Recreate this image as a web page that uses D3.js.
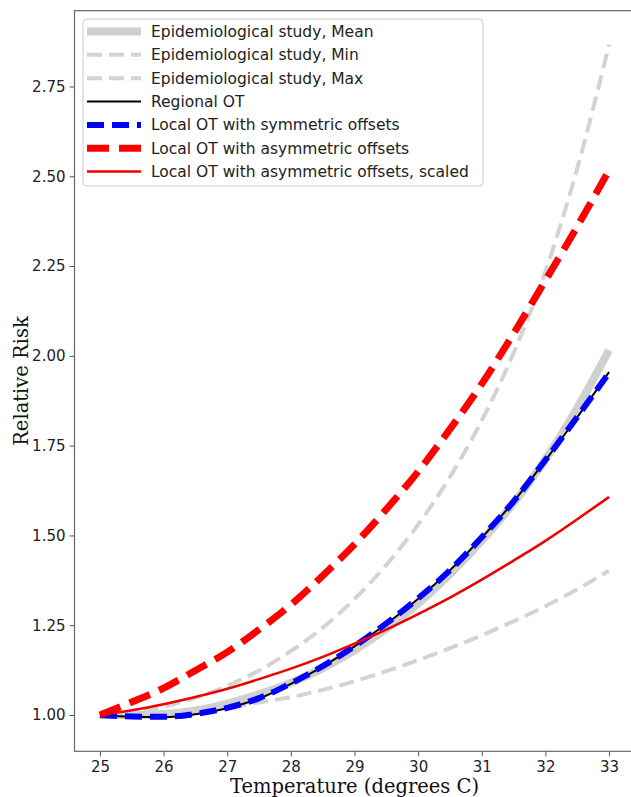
<!DOCTYPE html>
<html>
<head>
<meta charset="utf-8">
<script src="https://cdn.jsdelivr.net/npm/d3@7"></script>
<style>
  html, body { margin: 0; padding: 0; background: #fff; }
  svg { display: block; }
</style>
</head>
<body>
<svg id="chart" width="631" height="797"></svg>
<script>
// ---------------- data ----------------
const temps = [25, 25.5, 26, 26.5, 27, 27.5, 28, 28.5, 29, 29.5, 30, 30.5, 31, 31.5, 32, 32.5, 33];
const epiMean = [1.000, 1.000, 1.003, 1.013, 1.032, 1.058, 1.090, 1.130, 1.180, 1.240, 1.310, 1.392, 1.485, 1.590, 1.712, 1.855, 2.016];
const epiMin  = [1.000, 1.002, 1.006, 1.013, 1.022, 1.035, 1.050, 1.070, 1.094, 1.122, 1.153, 1.186, 1.222, 1.261, 1.303, 1.350, 1.402];
const epiMax  = [1.000, 1.008, 1.024, 1.048, 1.081, 1.124, 1.178, 1.243, 1.323, 1.418, 1.530, 1.663, 1.820, 2.008, 2.235, 2.522, 2.866];
const regionalOT = [1.000, 0.995, 0.994, 1.002, 1.019, 1.046, 1.087, 1.135, 1.191, 1.254, 1.324, 1.403, 1.494, 1.594, 1.709, 1.829, 1.955];
const localSym   = [1.000, 0.996, 0.995, 1.003, 1.020, 1.047, 1.088, 1.136, 1.192, 1.255, 1.325, 1.403, 1.495, 1.595, 1.710, 1.830, 1.953];
const localAsym  = [1.000, 1.036, 1.075, 1.124, 1.175, 1.238, 1.307, 1.388, 1.475, 1.573, 1.678, 1.796, 1.922, 2.062, 2.210, 2.360, 2.517];
const localAsymScaled = [1.000, 1.013, 1.030, 1.050, 1.073, 1.100, 1.129, 1.162, 1.199, 1.238, 1.281, 1.327, 1.377, 1.430, 1.485, 1.545, 1.607];

const xTicks = [25, 26, 27, 28, 29, 30, 31, 32, 33];
const yTicks = [1.00, 1.25, 1.50, 1.75, 2.00, 2.25, 2.50, 2.75];

const seriesLabels = [
  "Epidemiological study, Mean",
  "Epidemiological study, Min",
  "Epidemiological study, Max",
  "Regional OT",
  "Local OT with symmetric offsets",
  "Local OT with asymmetric offsets",
  "Local OT with asymmetric offsets, scaled"
];
const seriesValues = [epiMean, epiMin, epiMax, regionalOT, localSym, localAsym, localAsymScaled];

// styles
const styles = [
  { color: "#d0d0d0", width: 8,   dash: null,    cap: "butt" },
  { color: "#d3d3d3", width: 4,   dash: "15,7",  cap: "butt" },
  { color: "#d3d3d3", width: 4,   dash: "15,7",  cap: "butt" },
  { color: "#000000", width: 2,   dash: null,    cap: "butt" },
  { color: "#0000ff", width: 6,   dash: "17,8",  cap: "butt" },
  { color: "#ff0000", width: 7,   dash: "22,10", cap: "butt" },
  { color: "#ee0000", width: 2.5, dash: null,    cap: "butt" }
];

// ---------------- layout ----------------
const svg = d3.select("#chart");
const pL = 74.5, pR = 634.5, pT = 10.7, pB = 751.3;

const x = d3.scaleLinear().domain([24.6, 33.4]).range([pL, pR]);
const y = d3.scaleLinear().domain([0.899, 2.961]).range([pB, pT]);

// clip
svg.append("defs").append("clipPath").attr("id", "plotclip")
  .append("rect").attr("x", pL).attr("y", pT).attr("width", pR - pL).attr("height", pB - pT);

const line = d3.line().x(d => x(d[0])).y(d => y(d[1])).curve(d3.curveMonotoneX);

const plot = svg.append("g").attr("clip-path", "url(#plotclip)");
seriesValues.forEach((vals, i) => {
  const st = styles[i];
  plot.append("path")
    .datum(temps.map((t, j) => [t, vals[j]]))
    .attr("d", line)
    .attr("fill", "none")
    .attr("stroke", st.color)
    .attr("stroke-width", st.width)
    .attr("stroke-linecap", st.cap)
    .attr("stroke-linejoin", "round")
    .attr("stroke-dasharray", st.dash);
});

// axes
const tickFont = "DejaVu Sans, sans-serif";
const xAxis = d3.axisBottom(x).tickValues(xTicks).tickFormat(d3.format("d")).tickSize(5).tickPadding(5);
const yAxis = d3.axisLeft(y).tickValues(yTicks).tickFormat(d3.format(".2f")).tickSize(5).tickPadding(4);

const gx = svg.append("g").attr("transform", `translate(0,${pB})`).call(xAxis);
const gy = svg.append("g").attr("transform", `translate(${pL},0)`).call(yAxis);
[gx, gy].forEach(g => {
  g.select(".domain").remove();
  g.selectAll(".tick line").attr("stroke", "#555").attr("stroke-width", 1);
  g.selectAll(".tick text").attr("fill", "#222").style("font-family", tickFont).style("font-size", "15px");
});

// frame
svg.append("rect").attr("x", pL).attr("y", pT).attr("width", pR - pL).attr("height", pB - pT)
  .attr("fill", "none").attr("stroke", "#666").attr("stroke-width", 1.2);

// axis titles
svg.append("text")
  .attr("x", (pL + pR) / 2).attr("y", 793)
  .attr("text-anchor", "middle")
  .style("font-family", "DejaVu Serif, serif").style("font-size", "19.5px").attr("fill", "#111")
  .text("Temperature (degrees C)");
svg.append("text")
  .attr("transform", `translate(28,${(pT + pB) / 2}) rotate(-90)`)
  .attr("text-anchor", "middle")
  .style("font-family", "DejaVu Serif, serif").style("font-size", "19.5px").attr("fill", "#111")
  .text("Relative Risk");

// legend
const lg = svg.append("g");
lg.append("rect").attr("x", 83).attr("y", 19).attr("width", 400).attr("height", 167).attr("rx", 4)
  .attr("fill", "#fff").attr("fill-opacity", 0.8).attr("stroke", "#cccccc").attr("stroke-width", 1);
seriesLabels.forEach((lab, i) => {
  const ry = 31.5 + i * 23.35;
  const st = styles[i];
  lg.append("line").attr("x1", 87).attr("x2", 141).attr("y1", ry).attr("y2", ry)
    .attr("stroke", st.color).attr("stroke-width", st.width).attr("stroke-dasharray", st.dash)
    .attr("stroke-linecap", "butt");
  lg.append("text").attr("x", 151).attr("y", ry).attr("dy", "0.36em")
    .style("font-family", tickFont).style("font-size", "15.5px").attr("fill", "#222")
    .text(lab);
});
</script>
</body>
</html>
